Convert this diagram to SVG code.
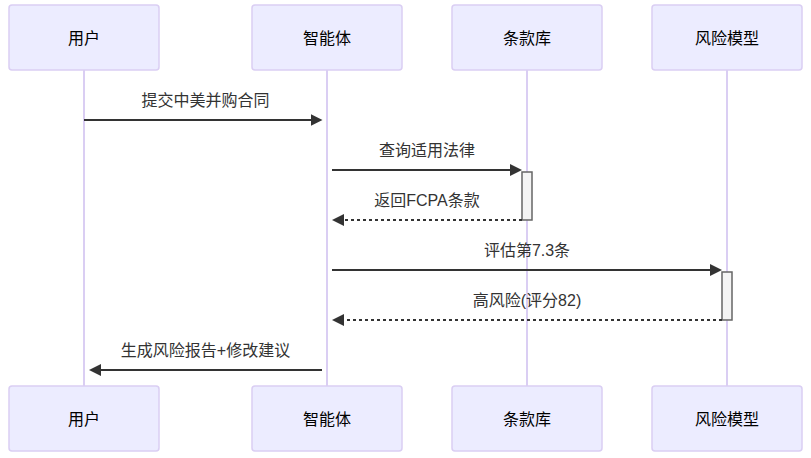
<svg xmlns="http://www.w3.org/2000/svg" width="811" height="458" viewBox="0 0 811 458">
<style>
.actor{fill:#ECECFF;stroke:#DACEF3;stroke-width:1.5}
.atext{font-family:"Liberation Sans","Noto Sans CJK SC",sans-serif;font-size:16px;fill:#000;text-anchor:middle;dominant-baseline:central}
.life{stroke:#DACEF3;stroke-width:2}
.msg{stroke:#333;stroke-width:2;fill:none}
.dash{stroke-dasharray:3,3}
.mtext{font-family:"Liberation Sans","Noto Sans CJK SC",sans-serif;font-size:16px;fill:#333;text-anchor:middle;dominant-baseline:central}
.act{fill:#F4F4F4;stroke:#666;stroke-width:1.5}
</style>
<defs>
<marker id="ah" viewBox="0 0 10 10" refX="7.9" refY="5" markerUnits="userSpaceOnUse" markerWidth="12" markerHeight="12" orient="auto">
<path d="M0,0 L10,5 L0,10 z" fill="#333"/>
</marker>
</defs>
<rect width="811" height="458" fill="#fff"/>
<g id="lifelines">
<line class="life" x1="84" y1="70" x2="84" y2="386"/>
<line class="life" x1="327" y1="70" x2="327" y2="386"/>
<line class="life" x1="527" y1="70" x2="527" y2="386"/>
<line class="life" x1="727" y1="70" x2="727" y2="386"/>
</g>
<g id="actor-user"><rect class="actor" x="9" y="5" width="150" height="65" rx="3"/><text class="atext" x="84" y="38">用户</text></g>
<g id="actor-agent"><rect class="actor" x="252" y="5" width="150" height="65" rx="3"/><text class="atext" x="327" y="38">智能体</text></g>
<g id="actor-clauses"><rect class="actor" x="452" y="5" width="150" height="65" rx="3"/><text class="atext" x="527" y="38">条款库</text></g>
<g id="actor-risk"><rect class="actor" x="652" y="5" width="150" height="65" rx="3"/><text class="atext" x="727" y="38">风险模型</text></g>
<g id="actor-user-b"><rect class="actor" x="9" y="386" width="150" height="65" rx="3"/><text class="atext" x="84" y="419">用户</text></g>
<g id="actor-agent-b"><rect class="actor" x="252" y="386" width="150" height="65" rx="3"/><text class="atext" x="327" y="419">智能体</text></g>
<g id="actor-clauses-b"><rect class="actor" x="452" y="386" width="150" height="65" rx="3"/><text class="atext" x="527" y="419">条款库</text></g>
<g id="actor-risk-b"><rect class="actor" x="652" y="386" width="150" height="65" rx="3"/><text class="atext" x="727" y="419">风险模型</text></g>
<g id="activations">
<rect class="act" x="522" y="172" width="10" height="48"/>
<rect class="act" x="722" y="272" width="10" height="48"/>
</g>
<g id="connectors">
<line class="msg" x1="84" y1="120" x2="320" y2="120" marker-end="url(#ah)"/>
<text class="mtext" x="205.5" y="100">提交中美并购合同</text>
<line class="msg" x1="332" y1="170" x2="519.5" y2="170" marker-end="url(#ah)"/>
<text class="mtext" x="427" y="150">查询适用法律</text>
<line class="msg dash" x1="522" y1="220" x2="334.5" y2="220" marker-end="url(#ah)"/>
<text class="mtext" x="427" y="200">返回FCPA条款</text>
<line class="msg" x1="332" y1="270" x2="719.5" y2="270" marker-end="url(#ah)"/>
<text class="mtext" x="527" y="250">评估第7.3条</text>
<line class="msg dash" x1="722" y1="320" x2="334.5" y2="320" marker-end="url(#ah)"/>
<text class="mtext" x="527" y="300">高风险(评分82)</text>
<line class="msg" x1="322" y1="370" x2="91.5" y2="370" marker-end="url(#ah)"/>
<text class="mtext" x="205.5" y="350">生成风险报告+修改建议</text>
</g>
</svg>
